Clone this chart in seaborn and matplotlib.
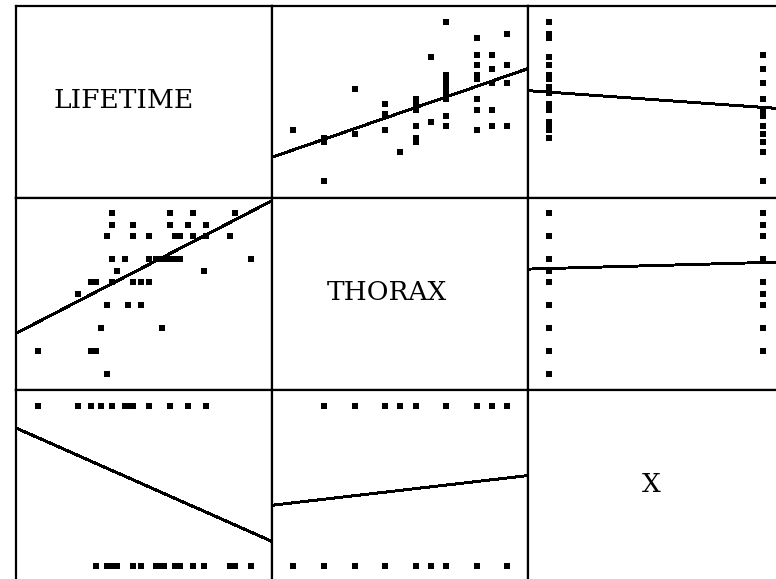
import numpy as np
import pandas as pd
import matplotlib
matplotlib.use('Agg')
import matplotlib.pyplot as plt
import seaborn as sns

# values (grouped by thorax)
lifetime = [44, 66, 75, 91,
            44, 52, 52, 66, 73, 80,
            42, 52, 58, 68, 70, 75, 80, 89,
            44, 49, 49, 58, 58, 61, 63, 64, 66, 66, 68, 70, 97,
            46, 79,
            36, 38, 44, 52, 55, 58, 58,
            31,
            42, 50, 55,
            40, 63,
            16, 36, 38,
            42]
thorax = [0.92, 0.92, 0.92, 0.92,
          0.90, 0.90, 0.90, 0.90, 0.90, 0.90,
          0.88, 0.88, 0.88, 0.88, 0.88, 0.88, 0.88, 0.88,
          0.84, 0.84, 0.84, 0.84, 0.84, 0.84, 0.84, 0.84, 0.84, 0.84, 0.84, 0.84, 0.84,
          0.82, 0.82,
          0.80, 0.80, 0.80, 0.80, 0.80, 0.80, 0.80,
          0.78,
          0.76, 0.76, 0.76,
          0.72, 0.72,
          0.68, 0.68, 0.68,
          0.64]
x_group = [1, 1, 0, 0,
           1, 1, 1, 1, 1, 1,
           0, 0, 1, 0, 0, 0, 1, 0,
           0, 1, 1, 1, 1, 0, 0, 0, 1, 1, 0, 0, 0,
           0, 0,
           1, 0, 0, 1, 0, 1, 1,
           1,
           0, 1, 0,
           1, 0,
           1, 1, 0,
           0]

variables = ['LIFETIME', 'THORAX', 'X']
limits = {'LIFETIME': (7.5, 105.0), 'THORAX': (0.612, 0.947), 'X': (-0.1, 1.1)}
label_pos = {'LIFETIME': 0.42, 'THORAX': 0.45, 'X': 0.48}

df = pd.DataFrame({'LIFETIME': lifetime, 'THORAX': thorax, 'X': x_group})

sns.set_style('white')
plt.rcParams['font.family'] = ['DejaVu Serif']

W, H = 776, 579
fig = plt.figure(figsize=(W / 100, H / 100), dpi=100)
fig.patch.set_facecolor('white')

cell_w, cell_h = 256, 192
x0, y0 = 16, 6

for i, yvar in enumerate(variables):
    for j, xvar in enumerate(variables):
        left = (x0 + j * cell_w) / W
        bottom = 1 - (y0 + (i + 1) * cell_h) / H
        ax = fig.add_axes([left, bottom, cell_w / W, cell_h / H])
        ax.set_xlim(*limits[xvar])
        ax.set_ylim(*limits[yvar])
        if i == j:
            ax.text(label_pos[xvar], 0.51, xvar, transform=ax.transAxes,
                    ha='center', va='center', fontsize=19, color='black')
        else:
            sns.scatterplot(data=df, x=xvar, y=yvar, ax=ax, marker='s', s=13,
                            color='black', linewidth=0, legend=False)
            sns.regplot(data=df, x=xvar, y=yvar, ax=ax, scatter=False, ci=None,
                        truncate=False,
                        line_kws={'color': 'black', 'lw': 1.4, 'antialiased': False})
            ax.set_xlim(*limits[xvar])
            ax.set_ylim(*limits[yvar])
        ax.set_xticks([])
        ax.set_yticks([])
        ax.set_xlabel('')
        ax.set_ylabel('')
        for sp in ax.spines.values():
            sp.set_visible(True)
            sp.set_color('black')
            sp.set_linewidth(1.6)

fig.savefig('out.png', dpi=100, facecolor='white')
